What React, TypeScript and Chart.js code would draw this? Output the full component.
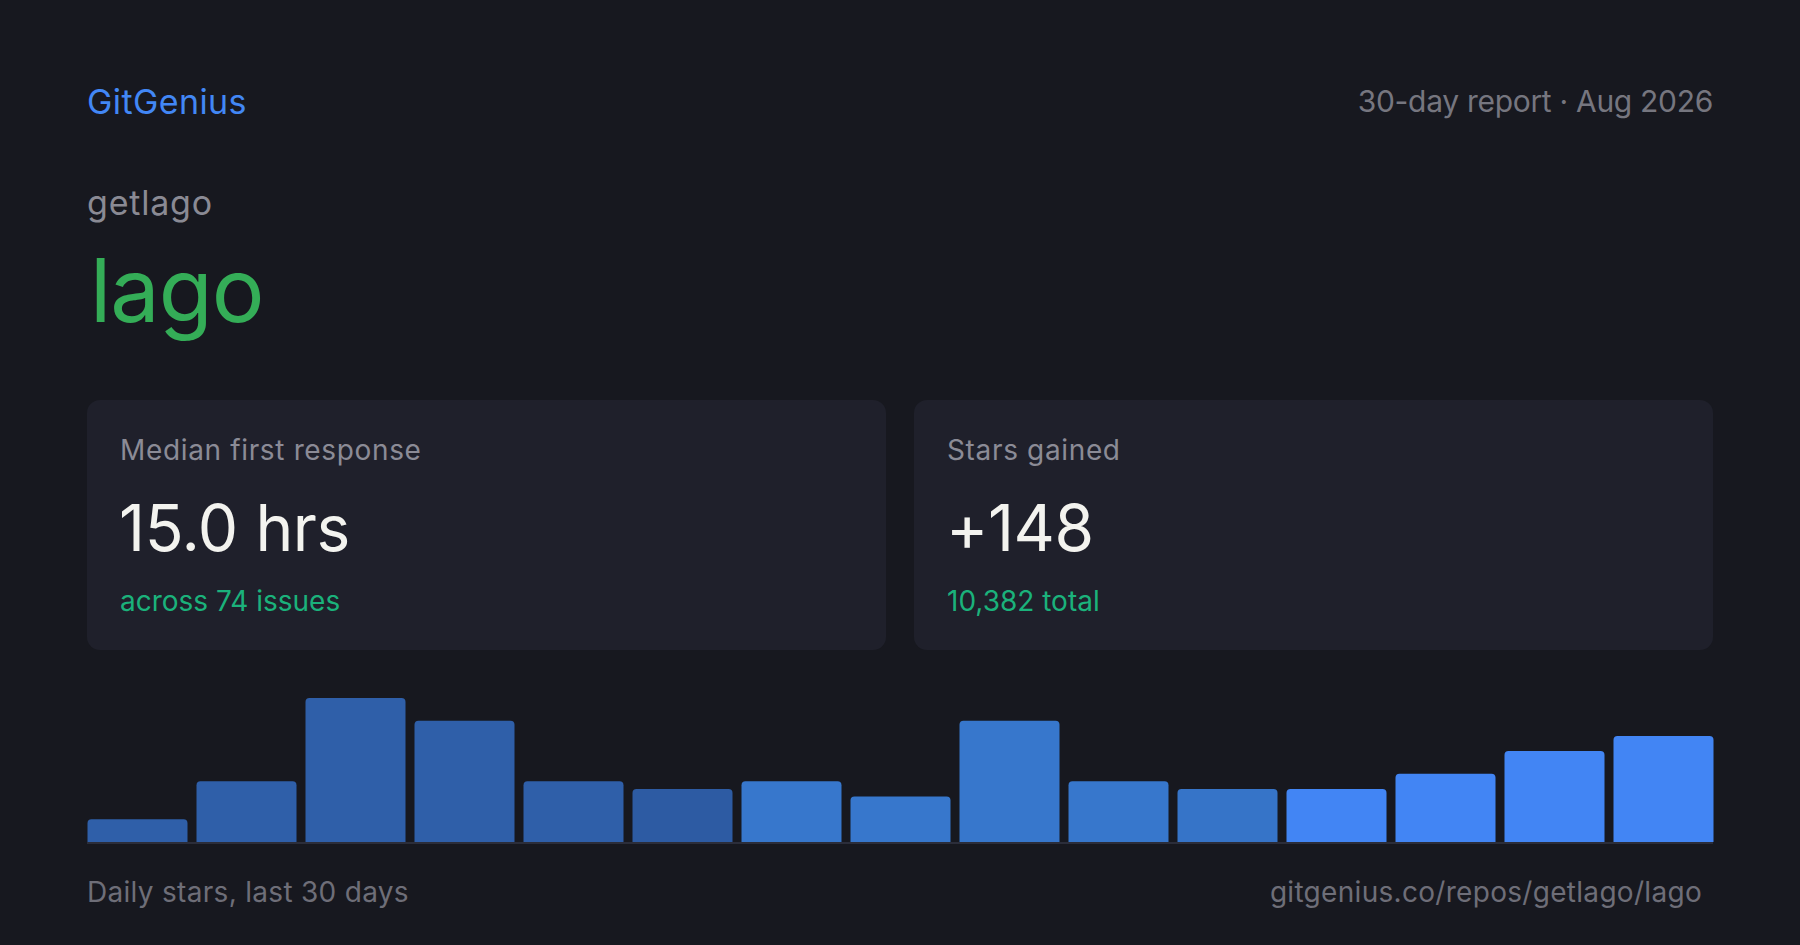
import React, { useEffect, useRef } from "react";
import { Chart, registerables } from "chart.js";

Chart.register(...registerables);

// ---- data ----
const BUCKETS: string[] = [
  "1", "2", "3", "4", "5", "6", "7", "8", "9", "10", "11", "12", "13", "14", "15",
];
const DAILY_STARS: number[] = [3, 8, 19, 16, 8, 7, 8, 6, 16, 8, 7, 7, 9, 12, 14];
const Y_MAX = 19;

const BRAND = "GitGenius";
const REPORT_LABEL = "30-day report · Aug 2026";
const OWNER = "getlago";
const REPO = "lago";
const CARD_LABELS = ["Median first response", "Stars gained"];
const CARD_VALUES = ["15.0 hrs", "+148"];
const CARD_SUBS = ["across 74 issues", "10,382 total"];
const FOOTER_LEFT = "Daily stars, last 30 days";
const FOOTER_RIGHT = "gitgenius.co/repos/getlago/lago";

// ---- styles ----
const BAR_COLORS = [
  "#2f5fa9", "#2f5fa9", "#2f5fa9", "#2f5fa9", "#2f5fa9",
  "#2d5ba3",
  "#3777cc", "#3777cc", "#3777cc", "#3777cc", "#3674c8",
  "#4285f4", "#4285f4", "#4285f4", "#4285f4",
];
const FONT = "Inter, 'Noto Sans', sans-serif";
const BG = "#17181f";
const CARD_BG = "#1f202b";

function BarChart() {
  const ref = useRef<HTMLCanvasElement | null>(null);
  useEffect(() => {
    if (!ref.current) return;
    const chart = new Chart(ref.current, {
      type: "bar",
      data: {
        labels: BUCKETS,
        datasets: [
          {
            data: DAILY_STARS,
            backgroundColor: BAR_COLORS,
            borderRadius: 4,
            borderSkipped: "bottom",
            barPercentage: 100 / 109,
            categoryPercentage: 1,
          },
        ],
      },
      options: {
        animation: false,
        responsive: true,
        maintainAspectRatio: false,
        layout: { padding: 0 },
        plugins: { legend: { display: false }, tooltip: { enabled: false } },
        scales: {
          x: { display: false, offset: true },
          y: { display: false, min: 0, max: Y_MAX },
        },
      },
    });
    return () => chart.destroy();
  }, []);
  return <canvas ref={ref} />;
}

const abs = (o: React.CSSProperties): React.CSSProperties => ({
  position: "absolute",
  margin: 0,
  whiteSpace: "nowrap",
  lineHeight: 1,
  fontFamily: FONT,
  ...o,
});

function Card({ left, i }: { left: number; i: number }) {
  return (
    <div
      style={{
        position: "absolute",
        left,
        top: 400,
        width: 799,
        height: 250,
        background: CARD_BG,
        borderRadius: 13,
      }}
    >
      <div style={abs({ left: 33, top: 36, fontSize: 28, color: "#8b8b96", letterSpacing: "0.65px" })}>
        {CARD_LABELS[i]}
      </div>
      <div style={abs({ left: 32, top: 96, fontSize: 64, color: "#f3f3ef", letterSpacing: "-0.4px" })}>
        {CARD_VALUES[i]}
      </div>
      <div style={abs({ left: 33, top: 187, fontSize: 28, color: "#1bb27b" })}>
        {CARD_SUBS[i]}
      </div>
    </div>
  );
}

export default function App() {
  useEffect(() => {
    document.body.style.margin = "0";
    document.body.style.background = BG;
  }, []);
  return (
    <div
      style={{
        position: "fixed",
        left: 0,
        top: 0,
        width: 1800,
        height: 945,
        background: BG,
        overflow: "hidden",
        fontFamily: FONT,
      }}
    >
      <div style={abs({ left: 87, top: 85, fontSize: 34, color: "#4287f5", letterSpacing: "0.4px" })}>
        {BRAND}
      </div>
      <div style={abs({ right: 87, top: 86, fontSize: 30, color: "#76767f", letterSpacing: "-0.3px" })}>
        {REPORT_LABEL}
      </div>
      <div style={abs({ left: 87, top: 186, fontSize: 34, color: "#8a8a94", letterSpacing: "0.8px" })}>
        {OWNER}
      </div>
      <div style={abs({ left: 90, top: 246, fontSize: 88, color: "#34ad57", letterSpacing: "-1px" })}>
        {REPO}
      </div>

      <Card left={87} i={0} />
      <Card left={914} i={1} />

      <div style={{ position: "absolute", left: 82.5, top: 698, width: 1635, height: 144 }}>
        <BarChart />
      </div>
      <div style={{ position: "absolute", left: 87, top: 842, width: 1626, height: 2, background: "#2b2d3a" }} />

      <div style={abs({ left: 87, top: 878, fontSize: 28, color: "#6e6e78", letterSpacing: "0.3px" })}>
        {FOOTER_LEFT}
      </div>
      <div style={abs({ right: 98, top: 878, fontSize: 28, color: "#6e6e78", letterSpacing: "0.3px" })}>
        {FOOTER_RIGHT}
      </div>
    </div>
  );
}
